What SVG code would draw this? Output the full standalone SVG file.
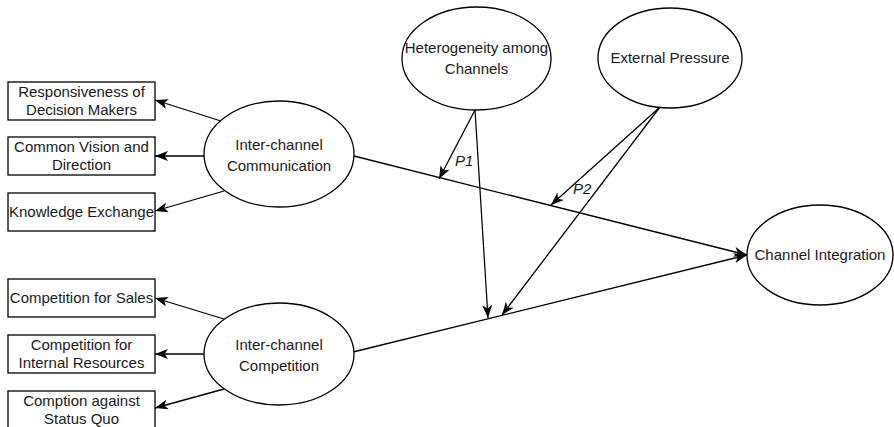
<svg xmlns="http://www.w3.org/2000/svg" width="894" height="427" viewBox="0 0 894 427">
<style>
.n{fill:#fff;stroke:#000;stroke-width:1.3}
.t{font-family:"Liberation Sans",Arial,sans-serif;font-size:15px;fill:#1a1a1a;text-anchor:middle}
.l{font-family:"Liberation Sans",Arial,sans-serif;font-size:15px;font-style:italic;fill:#1a1a1a}
.c{stroke:#000;stroke-width:1.3;fill:none;marker-end:url(#ah)}
</style>
<defs>
<marker id="ah" markerUnits="userSpaceOnUse" markerWidth="14" markerHeight="11" refX="13" refY="5" orient="auto">
<path d="M0,0 L13,5 L0,10 L3.5,5 Z" fill="#000"/>
</marker>
</defs>
<rect width="894" height="427" fill="#fff"/>
<g id="connectors">
<line class="c" x1="224" y1="122" x2="155" y2="100"/>
<line class="c" x1="204" y1="156" x2="155" y2="156"/>
<line class="c" x1="224" y1="191" x2="155" y2="211"/>
<line class="c" x1="224" y1="319" x2="155" y2="298"/>
<line class="c" x1="204" y1="354" x2="155" y2="354"/>
<line class="c" x1="224" y1="389" x2="155" y2="408"/>
<line class="c" x1="354" y1="156" x2="747" y2="255"/>
<line class="c" x1="353" y1="352" x2="747" y2="255"/>
<line class="c" x1="475" y1="110" x2="439" y2="179"/>
<line class="c" x1="475" y1="110" x2="488" y2="318"/>
<line class="c" x1="660" y1="107" x2="551" y2="205"/>
<line class="c" x1="660" y1="107" x2="502" y2="315"/>
<text class="l" x="455" y="166">P1</text>
<text class="l" x="573" y="194">P2</text>
</g>
<g id="resp"><rect class="n" x="8" y="82" width="147" height="38"/><text class="t" x="81.5" y="97">Responsiveness of</text><text class="t" x="81.5" y="115">Decision Makers</text></g>
<g id="vision"><rect class="n" x="8" y="137" width="147" height="38"/><text class="t" x="81.5" y="152">Common Vision and</text><text class="t" x="81.5" y="170">Direction</text></g>
<g id="knowledge"><rect class="n" x="8" y="193" width="147" height="38"/><text class="t" x="81.5" y="217">Knowledge Exchange</text></g>
<g id="sales"><rect class="n" x="8" y="279" width="147" height="38"/><text class="t" x="81.5" y="303">Competition for Sales</text></g>
<g id="internal"><rect class="n" x="8" y="335" width="147" height="38"/><text class="t" x="81.5" y="350">Competition for</text><text class="t" x="81.5" y="368">Internal Resources</text></g>
<g id="statusquo"><rect class="n" x="8" y="391" width="147" height="38"/><text class="t" x="81.5" y="406">Comption against</text><text class="t" x="81.5" y="424">Status Quo</text></g>
<g id="communication"><ellipse class="n" cx="279" cy="154" rx="75" ry="53"/><text class="t" x="279" y="150">Inter-channel</text><text class="t" x="279" y="171">Communication</text></g>
<g id="competition"><ellipse class="n" cx="279" cy="354" rx="75" ry="51"/><text class="t" x="279" y="350">Inter-channel</text><text class="t" x="279" y="371">Competition</text></g>
<g id="heterogeneity"><ellipse class="n" cx="476.5" cy="58.5" rx="74.5" ry="51.5"/><text class="t" x="476.5" y="53">Heterogeneity among</text><text class="t" x="476.5" y="74">Channels</text></g>
<g id="external"><ellipse class="n" cx="670" cy="58" rx="72" ry="50"/><text class="t" x="670" y="63">External Pressure</text></g>
<g id="integration"><ellipse class="n" cx="820" cy="255" rx="73" ry="50"/><text class="t" x="820" y="260">Channel Integration</text></g>
</svg>
